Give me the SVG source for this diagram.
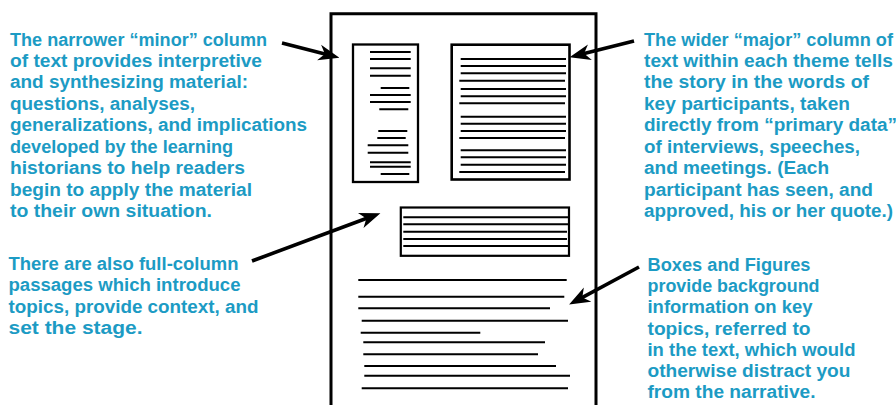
<svg xmlns="http://www.w3.org/2000/svg" width="896" height="405" viewBox="0 0 896 405">
<style>
.t{font-family:"Liberation Sans",Arial,sans-serif;font-weight:bold;font-size:18px;fill:#1c9bc4}
.box{fill:#fff;stroke:#000}
.ln{stroke:#000;stroke-width:2;fill:none}
.arr{stroke:#000;stroke-width:3.6;fill:none;marker-end:url(#ah)}
</style>
<defs>
<marker id="ah" markerUnits="userSpaceOnUse" markerWidth="21" markerHeight="17" refX="10" refY="8.5" orient="auto" viewBox="0 0 21 17">
<path d="M0,0.5 L21,8.5 L0,16.5 L6,8.5 Z" fill="#000"/>
</marker>
</defs>
<rect width="896" height="405" fill="#fff"/>

<g id="page">
<path d="M331,407 V13.7 H596 V407" fill="none" stroke="#000" stroke-width="3"/>
</g>

<g id="minor-column">
<rect class="box" x="353" y="44.5" width="65" height="137.5" stroke-width="2.3"/>
<path class="ln" d="M370,52 H410.7 M370,59 H410.7 M370,68.3 H410.7 M370,75.7 H410.7 M380.7,88 H409.3 M370,95 H410.7 M370,102 H410.7 M379.3,109.3 H408.3 M378.3,131 H407.3 M377.3,138 H405.7 M367.7,145.3 H408.3 M367.7,152.7 H408.3 M370,162.3 H410.7 M370,166.7 H410.7 M380.7,174 H409.3"/>
</g>

<g id="major-column">
<rect class="box" x="451.7" y="44.7" width="117.8" height="134.8" stroke-width="2.6"/>
<path class="ln" d="M460.7,59 H566 M460.7,66 H566 M460.7,73.3 H566 M459.3,80.7 H565 M460.7,89 H566 M460.7,96.3 H566 M459.3,103.3 H565 M460.7,116.7 H566 M460.7,123.7 H566 M460.7,131 H566 M459.3,138 H565 M460.7,150.3 H566 M460.7,157.3 H566 M460.7,164.7 H566 M459.3,172 H565"/>
</g>

<g id="full-column">
<rect class="box" x="400.8" y="207.5" width="168.2" height="48.3" stroke-width="2.2"/>
<path class="ln" d="M403.3,217.3 H568 M403.3,224.3 H568 M403.3,231.7 H567 M403.3,239 H567 M403.3,246 H568"/>
</g>

<g id="body-text">
<path class="ln" d="M358.3,280 H566.7 M358.3,296.7 H564.3 M358.3,308.3 H550 M361.7,320.7 H568 M360.7,332.7 H480.3 M363.3,342.3 H545 M363.3,354.3 H538 M364.3,366 H556 M364.3,375.7 H570 M361.7,388.3 H568"/>
</g>

<g id="connectors">
<path class="arr" d="M282,43 L328.8,55"/>
<path class="arr" d="M634,41 L580.2,54.6"/>
<path class="arr" d="M252,261 L370.1,217"/>
<path class="arr" d="M639,267 L578.8,299.3"/>
</g>

<g id="label-minor">
<text class="t" x="10" y="45.5" textLength="257" lengthAdjust="spacingAndGlyphs">The narrower “minor” column</text>
<text class="t" x="10" y="67" textLength="252" lengthAdjust="spacingAndGlyphs">of text provides interpretive</text>
<text class="t" x="10" y="88.4" textLength="238" lengthAdjust="spacingAndGlyphs">and synthesizing material:</text>
<text class="t" x="10" y="109.9" textLength="185" lengthAdjust="spacingAndGlyphs">questions, analyses,</text>
<text class="t" x="10" y="131.3" textLength="297" lengthAdjust="spacingAndGlyphs">generalizations, and implications</text>
<text class="t" x="10" y="152.8" textLength="223" lengthAdjust="spacingAndGlyphs">developed by the learning</text>
<text class="t" x="10" y="174.2" textLength="235" lengthAdjust="spacingAndGlyphs">historians to help readers</text>
<text class="t" x="10" y="195.7" textLength="242" lengthAdjust="spacingAndGlyphs">begin to apply the material</text>
<text class="t" x="10" y="217.1" textLength="202" lengthAdjust="spacingAndGlyphs">to their own situation.</text>
</g>

<g id="label-major">
<text class="t" x="644" y="45.5" textLength="249" lengthAdjust="spacingAndGlyphs">The wider “major” column of</text>
<text class="t" x="644" y="67" textLength="249" lengthAdjust="spacingAndGlyphs">text within each theme tells</text>
<text class="t" x="644" y="88.4" textLength="225" lengthAdjust="spacingAndGlyphs">the story in the words of</text>
<text class="t" x="644" y="109.9" textLength="206" lengthAdjust="spacingAndGlyphs">key participants, taken</text>
<text class="t" x="644" y="131.3" textLength="253" lengthAdjust="spacingAndGlyphs">directly from “primary data”</text>
<text class="t" x="644" y="152.8" textLength="216" lengthAdjust="spacingAndGlyphs">of interviews, speeches,</text>
<text class="t" x="644" y="174.2" textLength="185" lengthAdjust="spacingAndGlyphs">and meetings. (Each</text>
<text class="t" x="644" y="195.7" textLength="229" lengthAdjust="spacingAndGlyphs">participant has seen, and</text>
<text class="t" x="644" y="217.1" textLength="249" lengthAdjust="spacingAndGlyphs">approved, his or her quote.)</text>
</g>

<g id="label-full">
<text class="t" x="8.5" y="270" textLength="230" lengthAdjust="spacingAndGlyphs">There are also full-column</text>
<text class="t" x="8.5" y="291.3" textLength="232" lengthAdjust="spacingAndGlyphs">passages which introduce</text>
<text class="t" x="8.5" y="312.6" textLength="250" lengthAdjust="spacingAndGlyphs">topics, provide context, and</text>
<text class="t" x="8.5" y="333.9" textLength="134" lengthAdjust="spacingAndGlyphs">set the stage.</text>
</g>

<g id="label-boxes">
<text class="t" x="647.5" y="270.7" textLength="163" lengthAdjust="spacingAndGlyphs">Boxes and Figures</text>
<text class="t" x="647.5" y="292" textLength="172" lengthAdjust="spacingAndGlyphs">provide background</text>
<text class="t" x="647.5" y="313.2" textLength="165" lengthAdjust="spacingAndGlyphs">information on key</text>
<text class="t" x="647.5" y="334.5" textLength="163" lengthAdjust="spacingAndGlyphs">topics, referred to</text>
<text class="t" x="647.5" y="355.8" textLength="208" lengthAdjust="spacingAndGlyphs">in the text, which would</text>
<text class="t" x="647.5" y="377" textLength="203" lengthAdjust="spacingAndGlyphs">otherwise distract you</text>
<text class="t" x="647.5" y="398.3" textLength="168" lengthAdjust="spacingAndGlyphs">from the narrative.</text>
</g>
</svg>
